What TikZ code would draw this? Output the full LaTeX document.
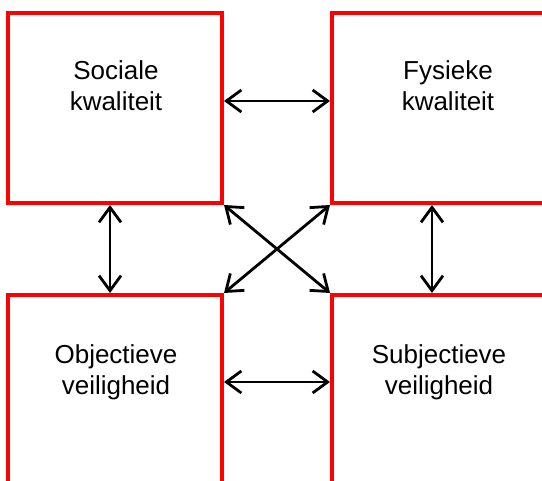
\documentclass[tikz,border=0pt]{standalone}
\usepackage{fontspec}
\setmainfont{Liberation Sans}
\usetikzlibrary{arrows.meta,calc}
\begin{document}
\begin{tikzpicture}[x=1pt,y=-1pt,
  box/.style={draw=red, line width=4pt, inner sep=0pt, minimum height=190pt},
  lbl/.style={font=\fontsize{26}{31}\selectfont, align=center, inner sep=0pt, anchor=base},
  link/.style={{Straight Barb[length=15pt,width=22pt]}-{Straight Barb[length=15pt,width=22pt]}, line width=2.8pt, black}]
\useasboundingbox (0,0) rectangle (542,481);
\clip (0,0) rectangle (542,481);
\node[box, minimum width=214pt] (tl) at (115,108) {};
\node[box, minimum width=232pt] (tr) at (448,108) {};
\node[box, minimum width=214pt] (bl) at (115,390) {};
\node[box, minimum width=232pt] (br) at (448,390) {};
\node[lbl] (tlt) at (116,111) {Sociale\\kwaliteit};
\node[lbl] (trt) at (448,111) {Fysieke\\kwaliteit};
\node[lbl] (blt) at (116,395) {Objectieve\\veiligheid};
\node[lbl] (brt) at (439,395) {Subjectieve\\veiligheid};
\draw[link] ([yshift=-90pt]tl.north east) -- ([yshift=-90pt]tr.north west);
\draw[link] ([yshift=-89pt]bl.north east) -- ([yshift=-89pt]br.north west);
\draw[link] ([xshift=104pt]tl.south west) -- ([xshift=104pt]bl.north west);
\draw[link] ([xshift=102pt]tr.south west) -- ([xshift=102pt]br.north west);
\draw[link] (tl.south east) -- (br.north west);
\draw[link] (tr.south west) -- (bl.north east);
\end{tikzpicture}
\end{document}
